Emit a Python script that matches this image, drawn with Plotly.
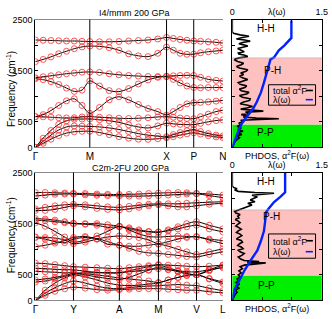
import plotly.graph_objects as go

FONT = "Liberation Sans, Arial, sans-serif"

# ---------------- I4/mmm 200 GPa : phonon bands ----------------
top_title = "I4/mmm 200 GPa"
top_kticks = [0, 56, 135, 163, 193]
top_klabels = ["Γ", "M", "X", "P", "N"]
top_k = [0, 8, 16, 24, 32, 40, 48, 56, 66, 76, 86, 96, 106, 116, 126, 135,
         142, 149, 156, 163, 170, 178, 186, 193]
top_b1 = [0, 80, 160, 230, 280, 305, 315, 316, 290, 250, 210, 180, 160, 158, 170, 190, 210, 240, 265, 285, 260, 230, 205, 190]
top_b2 = [0, 120, 240, 340, 400, 420, 415, 411, 400, 380, 350, 310, 270, 240, 220, 210, 250, 290, 325, 348, 310, 270, 240, 222]
top_b3 = [0, 180, 330, 450, 520, 550, 555, 557, 540, 520, 490, 440, 400, 380, 420, 475, 460, 450, 445, 443, 470, 500, 525, 538]
top_b4 = [601, 598, 590, 580, 575, 580, 595, 601, 590, 580, 570, 565, 570, 580, 595, 601, 590, 575, 565, 560, 600, 650, 700, 728]
top_b5 = [601, 640, 720, 820, 910, 950, 820, 665, 780, 930, 990, 930, 840, 760, 700, 633, 700, 780, 850, 874, 880, 890, 905, 918]
top_b6 = [1342, 1325, 1285, 1230, 1160, 1095, 1120, 1300, 1200, 1110, 1090, 1150, 1240, 1320, 1370, 1380, 1330, 1260, 1200, 1171, 1165, 1170, 1170, 1171]
top_b7 = [1361, 1380, 1400, 1420, 1440, 1455, 1470, 1475, 1465, 1440, 1420, 1405, 1395, 1385, 1385, 1393, 1400, 1405, 1410, 1405, 1370, 1330, 1310, 1298]
top_b8 = [1677, 1720, 1770, 1830, 1880, 1930, 1965, 1981, 1975, 1950, 1900, 1830, 1790, 1775, 1840, 1962, 1900, 1840, 1820, 1823, 1850, 1870, 1885, 1900]
top_b9 = [2100, 2095, 2090, 2085, 2080, 2080, 2075, 2070, 2065, 2065, 2070, 2080, 2090, 2100, 2120, 2150, 2130, 2110, 2095, 2080, 2075, 2065, 2055, 2040]
top_bands = [top_b1, top_b2, top_b3, top_b4, top_b5, top_b6, top_b7, top_b8, top_b9]

# ---------------- C2m-2FU 200 GPa : phonon bands ----------------
bot_title = "C2m-2FU 200 GPa"
bot_kticks = [0, 39, 86, 126, 165, 192]
bot_klabels = ["Γ", "Y", "A", "M", "V", "L"]
bot_k = [0, 10, 20, 30, 39, 51, 63, 74, 86, 96, 106, 116, 126, 136, 146, 155, 165, 178, 192]
bot_h1 = [2110, 2110, 2105, 2100, 2095, 2090, 2080, 2075, 2070, 2075, 2080, 2090, 2100, 2105, 2110, 2105, 2095, 2080, 2060]
bot_h2 = [2040, 2060, 2075, 2080, 2080, 2065, 2055, 2050, 2045, 2040, 2040, 2045, 2050, 2060, 2070, 2080, 2085, 2050, 2010]
bot_h3 = [1790, 1820, 1850, 1870, 1880, 1870, 1850, 1830, 1820, 1840, 1860, 1880, 1890, 1890, 1890, 1900, 1910, 1920, 1930]
bot_h4 = [1760, 1760, 1780, 1820, 1850, 1830, 1800, 1780, 1770, 1790, 1820, 1850, 1870, 1850, 1830, 1830, 1850, 1880, 1900]
bot_m1 = [1600, 1590, 1570, 1540, 1510, 1500, 1500, 1480, 1450, 1400, 1360, 1340, 1330, 1380, 1440, 1500, 1540, 1470, 1400]
bot_m2 = [1570, 1560, 1540, 1520, 1500, 1490, 1470, 1430, 1440, 1420, 1380, 1350, 1340, 1360, 1400, 1440, 1470, 1400, 1340]
bot_m3 = [1520, 1450, 1350, 1240, 1140, 1180, 1260, 1350, 1450, 1380, 1300, 1250, 1240, 1250, 1260, 1250, 1240, 1200, 1170]
bot_m4 = [1240, 1230, 1220, 1180, 1110, 1140, 1200, 1240, 1260, 1250, 1230, 1180, 1110, 1150, 1200, 1230, 1250, 1180, 1110]
bot_m5 = [1230, 1200, 1150, 1130, 1200, 1230, 1210, 1150, 1080, 1060, 1060, 1080, 1100, 1060, 1000, 950, 900, 950, 1010]
bot_m6 = [1050, 1080, 1120, 1170, 1230, 1250, 1200, 1100, 1080, 1020, 960, 930, 920, 900, 880, 860, 850, 900, 950]
bot_l1 = [0, 100, 180, 230, 260, 240, 210, 200, 210, 220, 230, 230, 230, 220, 210, 200, 200, 170, 150]
bot_l2 = [0, 140, 250, 330, 380, 340, 280, 240, 230, 250, 270, 280, 290, 300, 310, 300, 290, 240, 190]
bot_l3 = [0, 200, 340, 440, 500, 460, 400, 340, 300, 290, 300, 320, 340, 400, 450, 490, 510, 420, 330]
bot_l4 = [360, 380, 420, 470, 510, 520, 500, 470, 440, 420, 400, 380, 350, 400, 450, 490, 500, 430, 360]
bot_l5 = [400, 420, 450, 490, 530, 540, 540, 540, 540, 580, 620, 660, 690, 640, 580, 530, 500, 580, 660]
bot_l6 = [570, 560, 550, 540, 540, 500, 460, 430, 410, 450, 520, 590, 650, 610, 560, 520, 500, 600, 690]
bot_l7 = [630, 620, 610, 600, 600, 570, 550, 540, 540, 560, 580, 600, 620, 600, 580, 560, 560, 600, 640]
bot_l8 = [730, 720, 700, 680, 660, 650, 640, 630, 620, 640, 660, 680, 700, 690, 680, 670, 660, 670, 690]
bot_bands = [bot_h1, bot_h2, bot_h3, bot_h4, bot_m1, bot_m2, bot_m3, bot_m4, bot_m5, bot_m6,
             bot_l1, bot_l2, bot_l3, bot_l4, bot_l5, bot_l6, bot_l7, bot_l8]

# ---------------- PHDOS / alpha^2F and lambda ----------------
top_a2f_freq = [0, 60, 120, 160, 190, 222, 253, 285, 316, 348, 380, 411, 443, 475, 506, 530, 548, 560, 572, 595,
                615, 640, 665, 690, 710, 728, 748, 770, 800, 823, 855, 886, 918, 950, 981, 1013, 1045, 1076, 1108, 1139,
                1171, 1203, 1235, 1266, 1298, 1329, 1361, 1393, 1425, 1456, 1488, 1519, 1551, 1583, 1615, 1646, 1678, 1709, 1729, 1750,
                1775, 1800, 1824, 1845, 1869, 1900, 1932, 1955, 1983, 2005, 2027, 2050, 2077, 2100, 2121, 2150, 2172, 2200, 2229, 2260, 2500]
top_a2f = [0, 0.02, 0.05, 0.09, 0.12, 0.07, 0.16, 0.08, 0.18, 0.09, 0.15, 0.08, 0.14, 0.11, 0.20, 0.14, 0.45, 0.78, 0.40, 0.18,
           0.26, 0.15, 0.30, 0.22, 0.52, 0.28, 0.14, 0.24, 0.34, 0.26, 0.13, 0.19, 0.29, 0.30, 0.17, 0.12, 0.24, 0.28, 0.15, 0.12,
           0.21, 0.24, 0.13, 0.10, 0.19, 0.26, 0.17, 0.12, 0.19, 0.14, 0.23, 0.26, 0.12, 0.07, 0.15, 0.19, 0.09, 0.04, 0.05, 0.11,
           0.26, 0.21, 0.11, 0.10, 0.20, 0.14, 0.09, 0.16, 0.26, 0.19, 0.11, 0.17, 0.30, 0.21, 0.07, 0.17, 0.28, 0.13, 0.02, 0.0, 0.0]
top_lam_freq = [0, 190, 380, 506, 633, 760, 886, 1076, 1266, 1456, 1646, 1720, 1760, 1820, 1900, 1990, 2090, 2140, 2480]
top_lam = [0, 0.06, 0.12, 0.18, 0.27, 0.35, 0.41, 0.48, 0.53, 0.58, 0.62, 0.64, 0.70, 0.74, 0.78, 0.87, 0.94, 0.99, 0.99]
top_regions = [450, 1750]

bot_a2f_freq = [0, 60, 120, 160, 200, 240, 280, 320, 350, 390, 420, 460, 500, 540, 580, 620, 660, 690, 715, 735,
                745, 760, 780, 810, 850, 880, 918, 950, 981, 1013, 1044, 1076, 1108, 1140, 1171, 1203, 1234, 1266, 1298, 1330,
                1361, 1393, 1424, 1456, 1488, 1520, 1551, 1583, 1614, 1646, 1678, 1710, 1741, 1772, 1804, 1836, 1867, 1900, 1931, 1962,
                1994, 2026, 2057, 2080, 2095, 2110, 2133, 2160, 2184, 2210, 2240, 2500]
bot_a2f = [0, 0.02, 0.05, 0.08, 0.05, 0.11, 0.07, 0.12, 0.06, 0.10, 0.08, 0.13, 0.10, 0.15, 0.11, 0.17, 0.13, 0.20, 0.40, 0.56,
           0.25, 0.45, 0.20, 0.14, 0.10, 0.16, 0.20, 0.13, 0.10, 0.18, 0.15, 0.09, 0.12, 0.17, 0.15, 0.07, 0.11, 0.16, 0.13, 0.07,
           0.10, 0.15, 0.11, 0.06, 0.09, 0.13, 0.10, 0.05, 0.11, 0.09, 0.13, 0.06, 0.04, 0.12, 0.18, 0.28, 0.33, 0.26, 0.38, 0.30,
           0.36, 0.42, 0.33, 0.50, 0.70, 0.38, 0.10, 0.04, 0.08, 0.02, 0.0, 0.0]
bot_lam_freq = [0, 221, 410, 600, 789, 978, 1167, 1357, 1546, 1735, 1798, 1925, 2019, 2082, 2114, 2492]
bot_lam = [0, 0.04, 0.125, 0.21, 0.31, 0.42, 0.48, 0.53, 0.55, 0.57, 0.61, 0.70, 0.80, 0.87, 0.885, 0.885]
bot_regions = [490, 1770]

region_labels = ["P-P", "P-H", "H-H"]
lam_ticks = [0, 1.5]
lam_ticktext = ["0", "1.5"]
lam_minor = [0.5, 1.0]
freq_ticks = [0, 500, 1500, 2500]
freq_ticktext = ["0", "500", "1500", "2500"]
freq_minor = [1000, 2000]
dos_freq_ticks = [500, 1000, 1500, 2000]
legend_texts = ["total α<sup>2</sup>F", "λ(ω)"]

fig = go.Figure()

def add_bands(k, bands, xa, ya):
    for b in bands:
        fig.add_trace(go.Scatter(
            x=k, y=b, xaxis=xa, yaxis=ya, mode="lines+markers",
            line=dict(color="black", width=1, shape="spline", smoothing=0.8),
            marker=dict(symbol="circle-open", size=6, color="#ff2a2a", line=dict(width=0.8, color="#ff2a2a")),
            showlegend=False, hoverinfo="skip"))

add_bands(top_k, top_bands, "x", "y")
add_bands(bot_k, bot_bands, "x3", "y3")

def add_dos(freq, a2f, lfreq, lam, xa, ya):
    fig.add_trace(go.Scatter(x=a2f, y=freq, xaxis=xa, yaxis=ya, mode="lines",
                             line=dict(color="black", width=1.6), showlegend=False, hoverinfo="skip"))
    fig.add_trace(go.Scatter(x=lam, y=lfreq, xaxis=xa, yaxis=ya, mode="lines",
                             line=dict(color="#0022ff", width=2.4), showlegend=False, hoverinfo="skip"))

add_dos(top_a2f_freq, top_a2f, top_lam_freq, top_lam, "x2", "y2")
add_dos(bot_a2f_freq, bot_a2f, bot_lam_freq, bot_lam, "x4", "y4")

tickfont = dict(family=FONT, size=9, color="black")

band_x = [33.3 / 332, 226 / 332]
dos_x = [235.7 / 332, 327.7 / 332]
top_y = [1 - 147 / 319, 1 - 15 / 319]
bot_y = [1 - 305 / 319, 1 - 173 / 319]

def band_xaxis(dom, anchor, kt, kl):
    return dict(domain=dom, anchor=anchor, range=[0, kt[-1]], tickvals=kt, ticktext=kl,
                showgrid=False, zeroline=False, showline=True, linecolor="#8a8a8a", mirror=True,
                ticks="", ticklabelstandoff=0, tickfont=dict(family=FONT, size=10, color="black"))

def band_yaxis(dom, anchor):
    return dict(domain=dom, anchor=anchor, range=[0, 2500], tickvals=freq_ticks, ticktext=freq_ticktext,
                showgrid=False, zeroline=False, showline=True, linecolor="black", mirror=False,
                ticks="inside", ticklen=3, tickcolor="black", tickfont=tickfont,
                minor=dict(tickvals=freq_minor, ticks="inside", ticklen=3, tickcolor="black", showgrid=False))

def dos_xaxis(dom, anchor):
    return dict(domain=dom, anchor=anchor, range=[0, 1.5], side="top", tickvals=lam_ticks, ticktext=lam_ticktext,
                showgrid=False, zeroline=False, showline=True, linecolor="black", mirror="ticks",
                ticks="inside", ticklen=3, tickcolor="black", tickfont=tickfont,
                minor=dict(tickvals=lam_minor, ticks="inside", ticklen=3, tickcolor="black", showgrid=False))

def dos_yaxis(dom, anchor):
    return dict(domain=dom, anchor=anchor, range=[0, 2500], tickvals=dos_freq_ticks, showticklabels=False,
                showgrid=False, zeroline=False, showline=True, linecolor="black", mirror="ticks",
                ticks="inside", ticklen=3, tickcolor="black")

fig.update_layout(
    width=332, height=319, autosize=False,
    margin=dict(l=0, r=0, t=0, b=0),
    paper_bgcolor="white", plot_bgcolor="white",
    font=dict(family=FONT, size=9, color="black"),
    xaxis=band_xaxis(band_x, "y", top_kticks, top_klabels),
    yaxis=band_yaxis(top_y, "x"),
    xaxis2=dos_xaxis(dos_x, "y2"),
    yaxis2=dos_yaxis(top_y, "x2"),
    xaxis3=band_xaxis(band_x, "y3", bot_kticks, bot_klabels),
    yaxis3=band_yaxis(bot_y, "x3"),
    xaxis4=dos_xaxis(dos_x, "y4"),
    yaxis4=dos_yaxis(bot_y, "x4"),
)

shapes = []
annotations = []

# high-symmetry vertical lines
for kt, xr, yr in [(top_kticks, "x", "y"), (bot_kticks, "x3", "y3")]:
    for kv in kt[1:-1]:
        shapes.append(dict(type="line", xref=xr, yref=yr + " domain", x0=kv, x1=kv, y0=0, y1=1,
                           line=dict(color="black", width=1)))

# DOS region shading
for regions, xr, yr in [(top_regions, "x2", "y2"), (bot_regions, "x4", "y4")]:
    shapes.append(dict(type="rect", xref=xr + " domain", yref=yr, x0=0, x1=1, y0=0, y1=regions[0],
                       fillcolor="#00ee00", line=dict(width=0), layer="below"))
    shapes.append(dict(type="rect", xref=xr + " domain", yref=yr, x0=0, x1=1, y0=regions[0], y1=regions[1],
                       fillcolor="#ffc0c0", line=dict(width=0), layer="below"))
    shapes.append(dict(type="line", xref=xr + " domain", yref=yr, x0=0, x1=1, y0=regions[1], y1=regions[1],
                       line=dict(color="#aaaaaa", width=0.6)))

# region labels (positions in frequency)
label_pos = {
    "x2": [(0.25, 284), (0.33, 1496), (0.25, 2330)],
    "x4": [(0.27, 284), (0.32, 1648), (0.25, 2330)],
}
for xr, yr in [("x2", "y2"), ("x4", "y4")]:
    for name, (xd, fy) in zip(region_labels, label_pos[xr]):
        annotations.append(dict(text=name, xref=xr + " domain", yref=yr, x=xd, y=fy, showarrow=False,
                                font=dict(family=FONT, size=10, color="black")))

# custom legend boxes
for xr, yr, y0, y1 in [("x2", "y2", 0.33, 0.49), ("x4", "y4", 0.33, 0.52)]:
    shapes.append(dict(type="rect", xref=xr + " domain", yref=yr + " domain", x0=0.405, x1=0.93, y0=y0, y1=y1,
                       line=dict(color="black", width=1), fillcolor="rgba(0,0,0,0)"))
    ys = [y1 - (y1 - y0) * 0.28, y0 + (y1 - y0) * 0.27]
    cols = ["black", "#0022ff"]
    for txt, yy, c in zip(legend_texts, ys, cols):
        annotations.append(dict(text=txt, xref=xr + " domain", yref=yr + " domain", x=0.43, y=yy,
                                xanchor="left", yanchor="middle", showarrow=False,
                                font=dict(family=FONT, size=9, color="black")))
        shapes.append(dict(type="line", xref=xr + " domain", yref=yr + " domain", x0=0.82, x1=0.9, y0=yy, y1=yy,
                           line=dict(color=c, width=1.6)))
    annotations.append(dict(text="λ(ω)", xref=xr + " domain", yref=yr + " domain", x=0.5, y=1.06,
                            xanchor="center", yanchor="middle", showarrow=False,
                            font=dict(family=FONT, size=9, color="black")))
    annotations.append(dict(text="PHDOS, α<sup>2</sup>F(ω)", xref=xr + " domain", yref=yr + " domain", x=0.5, y=0.0,
                            xanchor="center", yanchor="top", showarrow=False,
                            font=dict(family=FONT, size=9, color="black")))

# titles and y-axis titles
annotations.append(dict(text=top_title, xref="paper", yref="paper", x=135 / 332, y=1 - 8 / 319,
                        xanchor="center", yanchor="middle", showarrow=False, font=dict(family=FONT, size=9)))
annotations.append(dict(text=bot_title, xref="paper", yref="paper", x=131 / 332, y=1 - 168 / 319,
                        xanchor="center", yanchor="middle", showarrow=False, font=dict(family=FONT, size=9)))
for yc in [1 - 87 / 319, 1 - 238 / 319]:
    annotations.append(dict(text="Frequency (cm<sup>-1</sup>)", xref="paper", yref="paper", x=8 / 332, y=yc,
                            xanchor="center", yanchor="middle", textangle=-90, showarrow=False,
                            font=dict(family=FONT, size=10)))

fig.update_layout(shapes=shapes, annotations=annotations)
fig.write_html("out.html", config={"displayModeBar": False},
               post_script="document.body.style.margin='0px';document.body.style.overflow='hidden';")
